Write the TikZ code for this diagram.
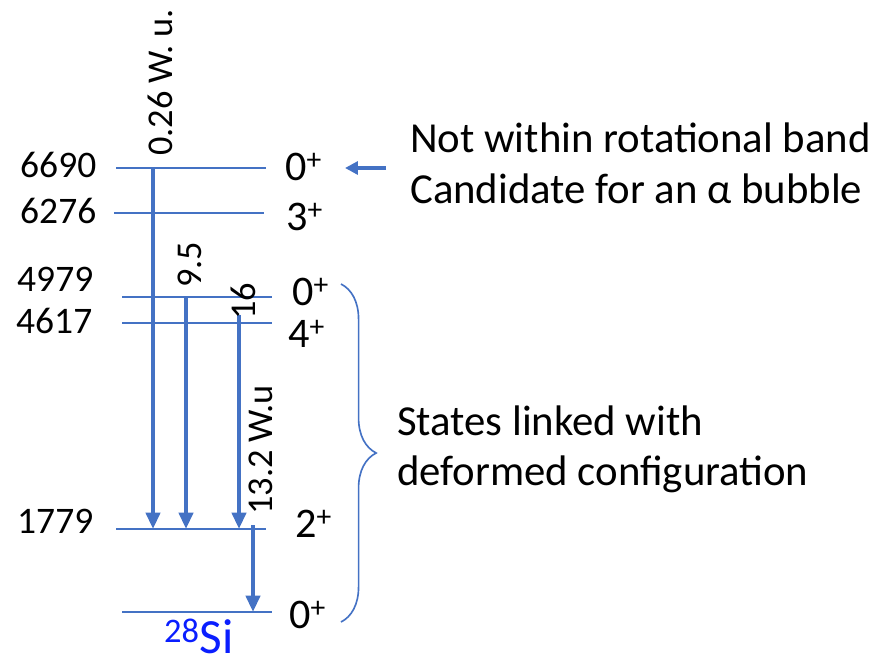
\documentclass[tikz,border=0pt]{standalone}
\usepackage{fontspec}
\setmainfont{Carlito}
\usetikzlibrary{arrows.meta, decorations.pathreplacing}
\definecolor{lvlblue}{HTML}{4472C4}
\definecolor{nucblue}{HTML}{0A1EFF}

\begin{document}
\begin{tikzpicture}[x=0.03cm, y=-0.03cm,
    level/.style={draw=lvlblue, line width=1.6pt},
    gamma/.style={draw=lvlblue, line width=3.4pt, -{Triangle[length=14pt, width=12pt]}},
    energy/.style={anchor=base west, inner sep=0pt, font=\fontsize{32}{38}\selectfont},
    spin/.style={anchor=base west, inner sep=0pt, font=\fontsize{36}{42}\selectfont},
    strength/.style={rotate=90, anchor=west, inner sep=0pt, font=\fontsize{31}{37}\selectfont},
    note/.style={anchor=base west, inner sep=0pt, font=\fontsize{36.5}{44}\selectfont},
    ]
\useasboundingbox (0,0) rectangle (870,668);

% Levels
\draw[level] (116,168) coordinate (lv6690) -- (266,168);
\draw[level] (114,213) coordinate (lv6276) -- (264,213);
\draw[level] (122,297) coordinate (lv4979) -- (272,297);
\draw[level] (122,323) coordinate (lv4617) -- (272,323);
\draw[level] (116,529) coordinate (lv1779) -- (266,529);
\draw[level] (122,612) coordinate (lv0) -- (272,612);

% Energies
\node[energy] (e6690) at (20,177) {6690};
\node[energy] (e6276) at (20,223) {6276};
\node[energy] (e4979) at (17,291) {4979};
\node[energy] (e4617) at (16,333) {4617};
\node[energy] (e1779) at (17,533) {1779};

% Spins
\node[spin] (s6690) at (285,180) {0\textsuperscript{+}};
\node[spin] (s6276) at (286,230) {3\textsuperscript{+}};
\node[spin] (s4979) at (292,305) {0\textsuperscript{+}};
\node[spin] (s4617) at (288,347) {4\textsuperscript{+}};
\node[spin] (s1779) at (295,537) {2\textsuperscript{+}};
\node[spin] (s0) at (289,628) {0\textsuperscript{+}};

% Transitions
\coordinate (c1) at (153,0);
\coordinate (c2) at (186,0);
\coordinate (c3) at (239,0);
\coordinate (c4) at (253,0);
\draw[gamma] ([yshift=-1]c1 |- lv6690) -- (c1 |- lv1779);
\draw[gamma] (c2 |- lv4979) -- (c2 |- lv1779);
\draw[gamma] ([yshift=7]c3 |- lv4617) -- (c3 |- lv1779);
\draw[gamma] ([yshift=3]c4 |- lv1779) -- (c4 |- lv0);

\node[strength] (b1) at (160,156) {0.26 W. u.};
\node[strength] (b2) at (190,288) {9.5};
\node[strength] (b3) at (243,320) {16};
\node[strength] (b4) at (261,515) {13.2 W.u};

% Notes
\coordinate (ntail) at (386,168);
\coordinate (nhead) at (345,168);
\draw[draw=lvlblue, line width=3.4pt, -{Triangle[length=11pt, width=11pt]}] (ntail) -- (nhead);
\node[note] (n1) at (410,152) {Not within rotational band};
\node[note] (n2) at (410,203) {Candidate for an α bubble};

\coordinate (btop) at (341,284);
\coordinate (bbot) at (341,622);
\draw[draw=lvlblue, line width=1.4pt, decorate, decoration={brace, amplitude=30}] (btop) -- (bbot);
\node[note] (n3) at (397,435) {States linked with};
\node[note] (n4) at (397,485) {deformed configuration};

\node[anchor=base west, inner sep=0pt, text=nucblue, font=\fontsize{42}{48}\selectfont] (nuc) at (164,653) {\textsuperscript{28}Si};
\end{tikzpicture}
\end{document}
